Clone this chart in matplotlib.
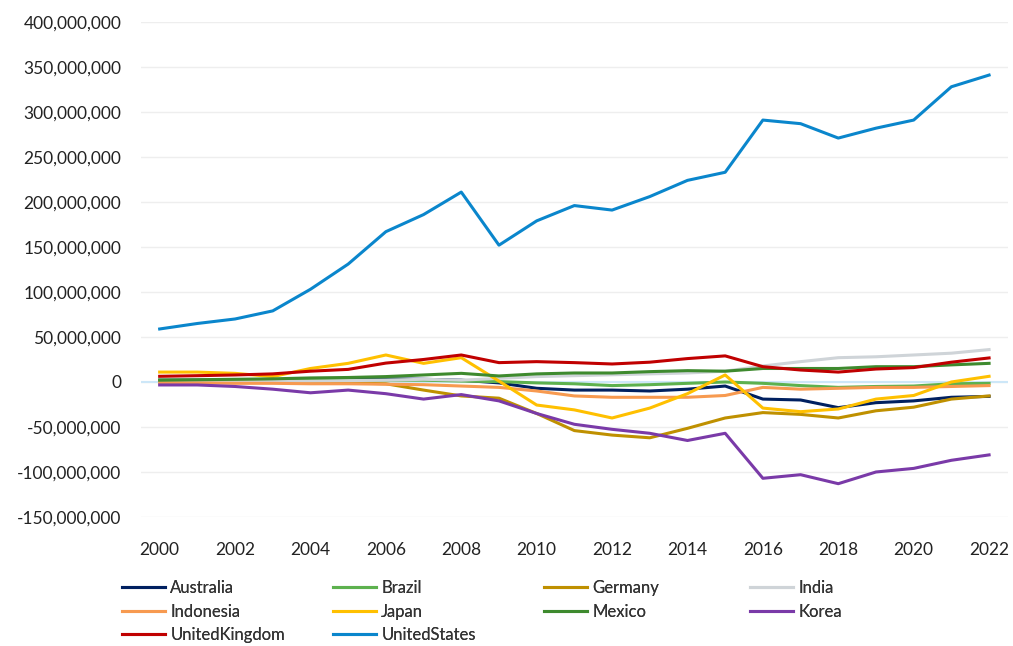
import matplotlib.pyplot as plt
import matplotlib.ticker as mticker
import numpy as np

plt.rcParams['font.family'] = ['Lato', 'DejaVu Sans']

years = np.arange(2000, 2023)

# values
australia = [2, 2, 2, 2.5, 3, 3, 3.5, 3, 2, -1, -7, -9, -9, -10, -8, -4.5, -19, -20, -28.5, -23, -21, -17, -16]
brazil = [2, 2, 2, 2, 2, 2, 2, 2, 1, 0.4, -1, -2, -4, -3, -1.5, 0, -1.5, -4, -6, -5, -4.5, -2, -1.5]
germany = [1, 0.5, 0.5, 0, -1, -1, -2, -9, -15.5, -18, -35, -54, -59, -62, -51.5, -40, -34, -36, -40, -32, -28, -19, -15.5]
india = [-1, -0.5, 0, 0.5, 1, 1.5, 2, 3, 2, 4, 6, 7, 8, 9, 10, 12, 17.8, 22.6, 27, 28, 30, 32, 36]
indonesia = [-1, -1, -1.5, -1.5, -2, -2, -2.5, -3, -4.5, -6, -10, -15.5, -17, -17, -17, -15, -6, -8, -7, -6, -6, -5, -4]
japan = [11, 11, 9.6, 6, 15, 20.7, 30, 20.7, 27, 1, -25.6, -31, -40, -29, -13, 7.8, -29, -33, -30, -19, -15, 0, 6.3]
mexico = [2, 2.5, 3, 3.5, 4.5, 5, 6, 7.8, 9.6, 6.7, 9, 10, 10, 11.5, 12.6, 12, 15, 15, 15, 17, 17, 19, 20.7]
korea = [-3.3, -3.3, -5, -8, -12, -9, -13, -19, -14, -21, -35, -47, -52.6, -57, -65, -57, -107, -103, -113, -100, -96, -87, -81]
united_kingdom = [6.3, 7, 7.8, 9, 12, 14, 21, 25, 30, 21.5, 22.6, 21.5, 20, 22, 26, 29, 17, 13.3, 11, 14.4, 16, 22, 26.7]
united_states = [58.9, 65, 70, 79, 103, 131, 167, 186, 211, 152, 179, 196, 191, 206, 224, 233, 291, 287, 271, 282, 291, 328, 341]

names = ['Australia', 'Brazil', 'Germany', 'India', 'Indonesia', 'Japan',
         'Mexico', 'Korea', 'UnitedKingdom', 'UnitedStates']
series = [australia, brazil, germany, india, indonesia, japan,
          mexico, korea, united_kingdom, united_states]
colors = ['#002060', '#5DB14E', '#BF9000', '#CFD4D8', '#F79A50', '#FFC000',
          '#3E8A2E', '#7A3AA8', '#C00000', '#0A86CC']

fig = plt.figure(figsize=(10.13, 6.46), dpi=100)
ax = fig.add_axes([0.139, 0.1997, 0.856, 0.7663])

ax.axhline(0, color='#CDE7F8', linewidth=1.5, zorder=1)
lines = []
for name, vals, c in zip(names, series, colors):
    ln, = ax.plot(years, np.array(vals) * 1e6, color=c, linewidth=2.2, zorder=2)
    lines.append(ln)

ax.set_ylim(-150e6, 400e6)
ax.set_xlim(1999.5, 2022.5)
ax.set_yticks(np.arange(-150e6, 400e6 + 1, 50e6))
ax.set_xticks(np.arange(2000, 2023, 2))
ax.yaxis.set_major_formatter(mticker.FuncFormatter(lambda v, p: f'{v:,.0f}'))
ax.grid(axis='y', color='#EEEEEE', linewidth=1)
ax.set_axisbelow(True)
for s in ax.spines.values():
    s.set_visible(False)
ax.tick_params(length=0, labelsize=12.5, colors='#222222')
ax.tick_params(axis='x', pad=18)
ax.tick_params(axis='y', pad=14)

# legend: 4 evenly spaced columns, filled row by row
col_x = [0.1204, 0.3287, 0.5370, 0.7403]
for i, x in enumerate(col_x):
    idx = list(range(i, len(names), 4))
    leg = fig.legend([lines[k] for k in idx], [names[k] for k in idx],
                     loc='upper left', bbox_to_anchor=(x, 0.102), frameon=False,
                     fontsize=12, handlelength=2.6, handletextpad=0.3,
                     labelspacing=0.45, borderpad=0, borderaxespad=0,
                     labelcolor='#333333')
    fig.add_artist(leg)

fig.savefig('out.png', dpi=100)
